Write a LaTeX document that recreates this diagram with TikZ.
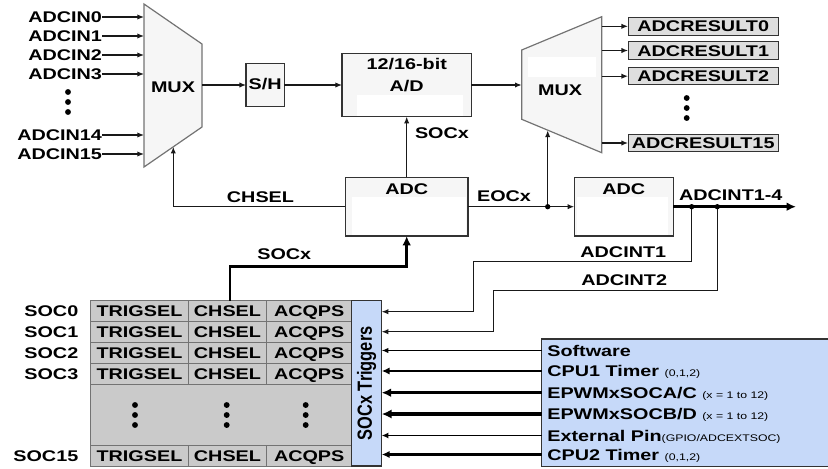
\documentclass[tikz,border=0pt]{standalone}
\usepackage{fontspec}
\setmainfont{Liberation Sans}[FakeStretch=1.28]
\newfontfamily\plainsans{Liberation Sans}
\usetikzlibrary{arrows.meta}
\definecolor{boxfill}{HTML}{F6F6F6}
\definecolor{cellfill}{HTML}{CACACA}
\definecolor{resfill}{HTML}{DEDEDE}
\definecolor{trigblue}{HTML}{C6D9F9}
\definecolor{edge}{HTML}{333333}
\newcommand{\smtxt}[1]{{\mdseries\fontsize{7.2}{8}\selectfont #1}}
\begin{document}
\begin{tikzpicture}[x=0.75pt,y=-0.75pt,
  every node/.style={inner sep=0pt,outer sep=0pt},
  lbl/.style={font=\fontsize{11.6}{13}\selectfont\bfseries,text height=8.5pt,text depth=0pt},
  blk/.style={draw=edge,line width=0.9pt,fill=boxfill},
  mux/.style={draw=black!55,line width=0.9pt,fill=boxfill},
  res/.style={lbl,draw=edge,line width=0.8pt,fill=resfill,minimum width=112.7pt,minimum height=13.1pt},
  cell/.style={lbl,draw=black!55,line width=0.6pt,fill=cellfill,minimum height=15.75pt},
  conn/.style={draw=black!90,line width=0.9pt},
  arr/.style={conn,-{Latex[length=5pt,width=4pt]}},
  bus/.style={draw=black,line width=2.2pt,-{Latex[length=7pt,width=6.5pt]}},
  jdot/.style={circle,fill=black,minimum size=4pt},
  vdot/.style={circle,fill=black,minimum size=4.4pt}
]
\useasboundingbox (0,0) rectangle (828,468);

% ---------- left multiplexer ----------
\draw[mux] (144,4) -- (202,44) -- (202,127) -- (144,167) -- cycle;
\node[lbl] (mux1) at (173,87) {MUX};
\coordinate (mux1out) at (202,85);
\coordinate (mux1sel) at (173.3,146.8);

\foreach \n/\y in {0/17,1/36,2/55,3/74,14/135,15/154}{
  \node[lbl,anchor=east] (in\n) at (102,\y) {ADCIN\n};
  \coordinate (m1i\n) at (144,\y);
  \draw[arr] (in\n.east) -- (m1i\n);
}
\foreach \d in {-10,0,10} \node[vdot] at (68,102+\d) {};

% ---------- S/H and A/D ----------
\node[blk,minimum width=28.7pt,minimum height=32.5pt] (sh) at (265.2,85) {};
\node[lbl] (shlbl) at (265.2,84) {S/H};
\node[blk,minimum width=97pt,minimum height=47.5pt] (ad) at (406.7,85) {};
\fill[white] (356.7,95) rectangle (463.3,115.5);
\node[lbl] (adl1) at (406.7,64) {12/16-bit};
\node[lbl] (adl2) at (406.7,86) {A/D};

\draw[arr] (mux1out) -- (sh.west);
\draw[arr] (sh.east) -- (ad.west);

% ---------- right multiplexer ----------
\draw[mux] (521.7,50) -- (601.7,16.7) -- (601.7,152.7) -- (521.7,119.3) -- cycle;
\fill[white] (528.3,57.3) rectangle (596,77.3);
\node[lbl] (mux2) at (560,90) {MUX};
\coordinate (m2in) at (521.7,85);
\coordinate (m2sel) at (547.7,130.4);
\draw[arr] (ad.east) -- (m2in);

\foreach \n/\y in {0/26.3,1/50.5,2/76.2,15/143}{
  \node[res] (res\n) at (703.2,\y) {ADCRESULT\n};
  \coordinate (m2o\n) at (601.7,\y);
  \draw[arr] (m2o\n) -- (res\n.west);
}
\foreach \d in {-10,0,10} \node[vdot] at (686.7,108+\d) {};

% ---------- ADC (middle) ----------
\node[blk,minimum width=92pt,minimum height=44pt] (adc) at (406.7,206.7) {};
\fill[white] (351.7,196.7) rectangle (466,235);
\node[lbl] (adclbl) at (406.7,189) {ADC};

\draw[arr] (adc.north) -- (ad.south);
\node[lbl,anchor=west] (socxa) at (415,133) {SOCx};

\draw[arr] (adc.west) -| (mux1sel);
\node[lbl] (chsel) at (260.5,196.7) {CHSEL};

% ---------- ADC (right) ----------
\node[blk,minimum width=74.3pt,minimum height=44pt] (adc2) at (623.8,206.7) {};
\fill[white] (576.7,196.7) rectangle (668,235);
\node[lbl] (adc2lbl) at (623.8,189) {ADC};

\coordinate (eocdot) at (547.7,206.7);
\draw[arr] (adc.east) -- (adc2.west);
\draw[arr] (eocdot) -- (m2sel);
\node[jdot] at (eocdot) {};
\node[lbl] (eocx) at (504,196) {EOCx};

\coordinate (intout) at (796,206.7);
\draw[bus,line width=2pt] (adc2.east) -- (intout);
\node[lbl] (int14) at (730.8,195) {ADCINT1-4};

% ---------- SOC table ----------
\fill[cellfill] (90.7,384.7) rectangle (351.7,445);
\draw[draw=black!55,line width=0.6pt] (90.7,384.7) rectangle (351.7,445);
\foreach \r/\y in {0/311.2,1/332.2,2/353.2,3/374.2,15/455.5}{
  \node[cell,minimum width=73.2pt] (tg\r) at (139.5,\y) {TRIGSEL};
  \node[cell,minimum width=58.8pt] (ch\r) at (227.5,\y) {CHSEL};
  \node[cell,minimum width=63.75pt] (aq\r) at (309.2,\y) {ACQPS};
  \node[lbl,anchor=east] (soc\r) at (78.3,\y) {SOC\r};
}
\foreach \x in {135,226.7,305.7}{
  \foreach \d in {-10,0,10} \node[vdot] at (\x,415+\d) {};
}

\node[draw=edge,line width=0.8pt,fill=trigblue,minimum width=22.5pt,minimum height=124pt] (trig) at (366.7,383.35) {};
\node[rotate=90,font=\plainsans\bfseries\fontsize{12.3}{14}\selectfont] (triglbl) at (366.7,383.35) {\scalebox{1}[1.25]{SOCx Triggers}};

% SOCx bus from table to ADC
\coordinate (tabtop) at (230,300.7);
\coordinate (socbend) at (230,266.7);
\draw[bus] (tabtop) -- (socbend) -| (adc.south);
\node[lbl] (socxb) at (284.3,254) {SOCx};

% ADCINT1 / ADCINT2 feedback
\coordinate (int1) at (691.7,206.7);
\coordinate (int2) at (717.3,206.7);
\coordinate (i1b) at (473.3,261.7);
\coordinate (i2b) at (493.3,290.3);
\coordinate (t1) at (381.7,311.7);
\coordinate (t2) at (381.7,331.7);
\draw[arr,line width=0.8pt] (int1) |- (i1b) |- (t1);
\draw[arr,line width=0.8pt] (int2) |- (i2b) |- (t2);
\node[jdot] at (int1) {};
\node[jdot] at (int2) {};
\node[lbl] (int1lbl) at (623.3,251.7) {ADCINT1};
\node[lbl] (int2lbl) at (624.2,280) {ADCINT2};

% ---------- trigger sources ----------
\node[draw=edge,line width=0.9pt,fill=trigblue,anchor=north west,minimum width=232pt,minimum height=95.8pt] (src) at (541.7,339) {};
\node[lbl,anchor=west] (sw) at (547.3,350.5) {Software};
\node[lbl,anchor=west] (cpu1) at (547.3,371) {CPU1 Timer \smtxt{(0,1,2)}};
\node[lbl,anchor=west] (pwma) at (547.3,392.7) {EPWMxSOCA/C \smtxt{(x = 1 to 12)}};
\node[lbl,anchor=west] (pwmb) at (547.3,414) {EPWMxSOCB/D \smtxt{(x = 1 to 12)}};
\node[lbl,anchor=west] (ext) at (547.3,435.5) {External Pin\smtxt{(GPIO/ADCEXTSOC)}};
\node[lbl,anchor=west] (cpu2) at (547.3,454.5) {CPU2 Timer \smtxt{(0,1,2)}};

\draw[line width=0.8pt,-{Latex[length=5pt,width=4pt]}] (sw.west -| src.west) -- (sw.west -| trig.east);
\draw[line width=1.6pt,-{Latex[length=6pt,width=5.5pt]}] (cpu1.west -| src.west) -- (cpu1.west -| trig.east);
\draw[line width=2.1pt,-{Latex[length=7pt,width=6.5pt]}] (pwma.west -| src.west) -- (pwma.west -| trig.east);
\draw[line width=2.5pt,-{Latex[length=7.5pt,width=7pt]}] (pwmb.west -| src.west) -- (pwmb.west -| trig.east);
\draw[line width=1pt,-{Latex[length=5pt,width=4.5pt]}] (ext.west -| src.west) -- (ext.west -| trig.east);
\draw[line width=1.6pt,-{Latex[length=6pt,width=5.5pt]}] (cpu2.west -| src.west) -- (cpu2.west -| trig.east);
\end{tikzpicture}
\end{document}
